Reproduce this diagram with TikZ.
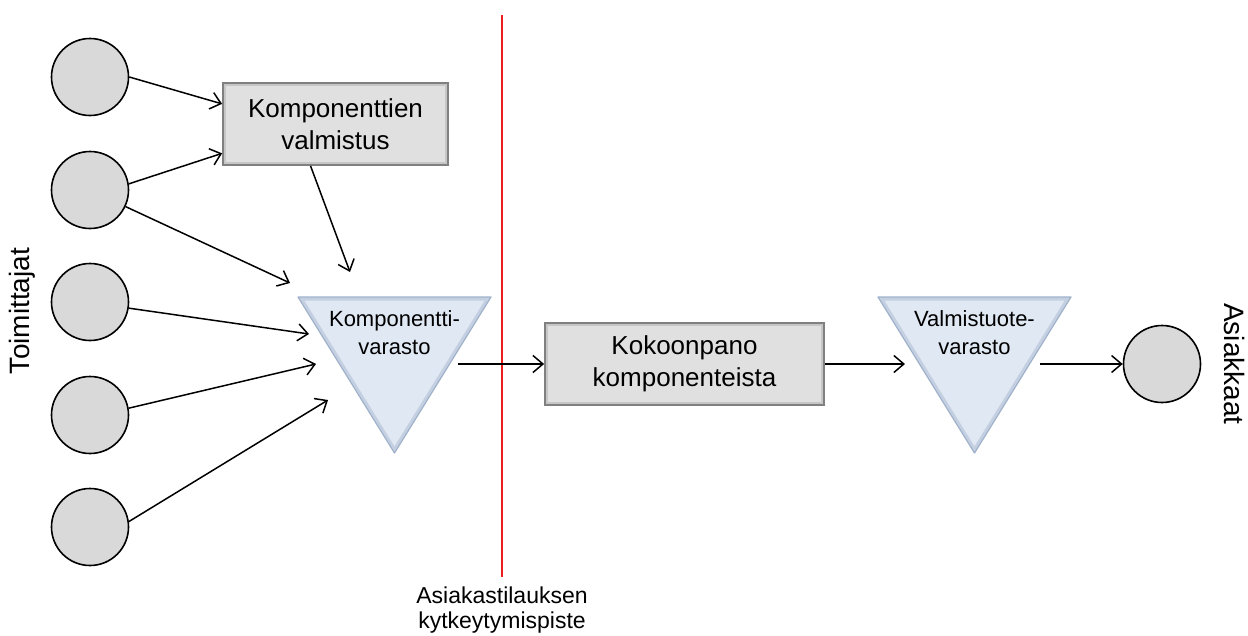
\documentclass[tikz,border=0pt]{standalone}
\usepackage{fontspec}
\setmainfont{Liberation Sans}
\usetikzlibrary{arrows.meta,calc}
\definecolor{circfill}{RGB}{217,217,217}
\definecolor{boxfill}{RGB}{224,224,224}
\definecolor{boxedge}{RGB}{128,128,128}
\definecolor{boxinner}{RGB}{198,198,198}
\definecolor{trifill}{RGB}{224,232,243}
\definecolor{triedge}{RGB}{160,178,202}
\definecolor{triinner}{RGB}{196,208,226}
\begin{document}
\begin{tikzpicture}[x=1pt,y=-1pt,
  supplier/.style={circle, draw=black, line width=1.6pt, fill=circfill, minimum size=77pt, inner sep=0pt},
  procbox/.style={rectangle, draw=boxedge, line width=1.8pt, fill=boxfill,
    minimum height=82pt, align=center, font=\fontsize{26}{32}\selectfont, inner sep=0pt,
    path picture={\draw[boxinner, line width=6pt] (path picture bounding box.south west) rectangle (path picture bounding box.north east);}},
  tritext/.style={align=center, font=\fontsize{22}{28}\selectfont, inner sep=0pt},
  sidelabel/.style={font=\fontsize{28}{32}\selectfont, inner sep=0pt},
  flow/.style={-{Straight Barb[length=10pt,width=17pt]}, line width=1.5pt, black},
  divider/.style={draw={rgb,255:red,235;green,30;blue,30}, line width=1.4pt}
]
\useasboundingbox (0,0) rectangle (1248,635);

% suppliers
\node[supplier] (s1) at (90,77) {};
\node[supplier] (s2) at (90,190) {};
\node[supplier] (s3) at (90,302) {};
\node[supplier] (s4) at (90,415) {};
\node[supplier] (s5) at (90,527) {};

% component manufacturing
\node[procbox, minimum width=225pt] (kv) at (335.5,124) {Komponenttien\\valmistus};

% component store triangle
\path[fill=trifill, draw=triedge, line width=1.2pt, line join=round,
  path picture={\draw[triinner, line width=7pt, line join=round] (298,297) -- (491,297) -- (394.5,453) -- cycle;}]
  (298,297) -- (491,297) -- (394.5,453) -- cycle;
\node[tritext] (t1) at (394.5,333) {Komponentti-\\varasto};

% assembly
\node[procbox, minimum width=279pt] (kp) at (684.5,364) {Kokoonpano\\komponenteista};

% finished goods store triangle
\path[fill=trifill, draw=triedge, line width=1.2pt, line join=round,
  path picture={\draw[triinner, line width=7pt, line join=round] (878,297) -- (1071,297) -- (974.5,453) -- cycle;}]
  (878,297) -- (1071,297) -- (974.5,453) -- cycle;
\node[tritext] (t2) at (974.5,333) {Valmistuote-\\varasto};

% customer
\node[supplier] (cust) at (1162,364) {};

% labels
\node[sidelabel, rotate=90] (toim) at (22,311) {Toimittajat};
\node[sidelabel, rotate=-90] (asi) at (1234,364) {Asiakkaat};

% decoupling point
\coordinate (redtop) at (502,15);
\coordinate (redbot) at (502,577);
\draw[divider] (redtop) -- (redbot);
\node[align=center, font=\fontsize{23}{25}\selectfont, inner sep=0pt] (dp) at (502,610) {Asiakastilauksen\\kytkeytymispiste};

% arrow end points
\coordinate (t1a) at (290,283);
\coordinate (t1b) at (350,272);
\coordinate (t1c) at (309,334);
\coordinate (t1d) at (316,364);
\coordinate (t1e) at (328,400);
\coordinate (t1out) at (458,364);
\coordinate (t2in) at (905,364);
\coordinate (t2out) at (1040,364);

% connectors
\draw[flow] (s1.east) -- ($(kv.north west)!0.26!(kv.south west)$);
\draw[flow] (s2.9) -- ($(kv.north west)!0.85!(kv.south west)$);
\draw[flow] (s2.-25) -- (t1a);
\draw[flow] ($(kv.south west)!0.39!(kv.south east)$) -- (t1b);
\draw[flow] (s3.-9) -- (t1c);
\draw[flow] (s4.10) -- (t1d);
\draw[flow] (s5.8) -- (t1e);
\draw[flow] (t1out) -- (kp.west);
\draw[flow] (kp.east) -- (t2in);
\draw[flow] (t2out) -- (cust.west);
\end{tikzpicture}
\end{document}
